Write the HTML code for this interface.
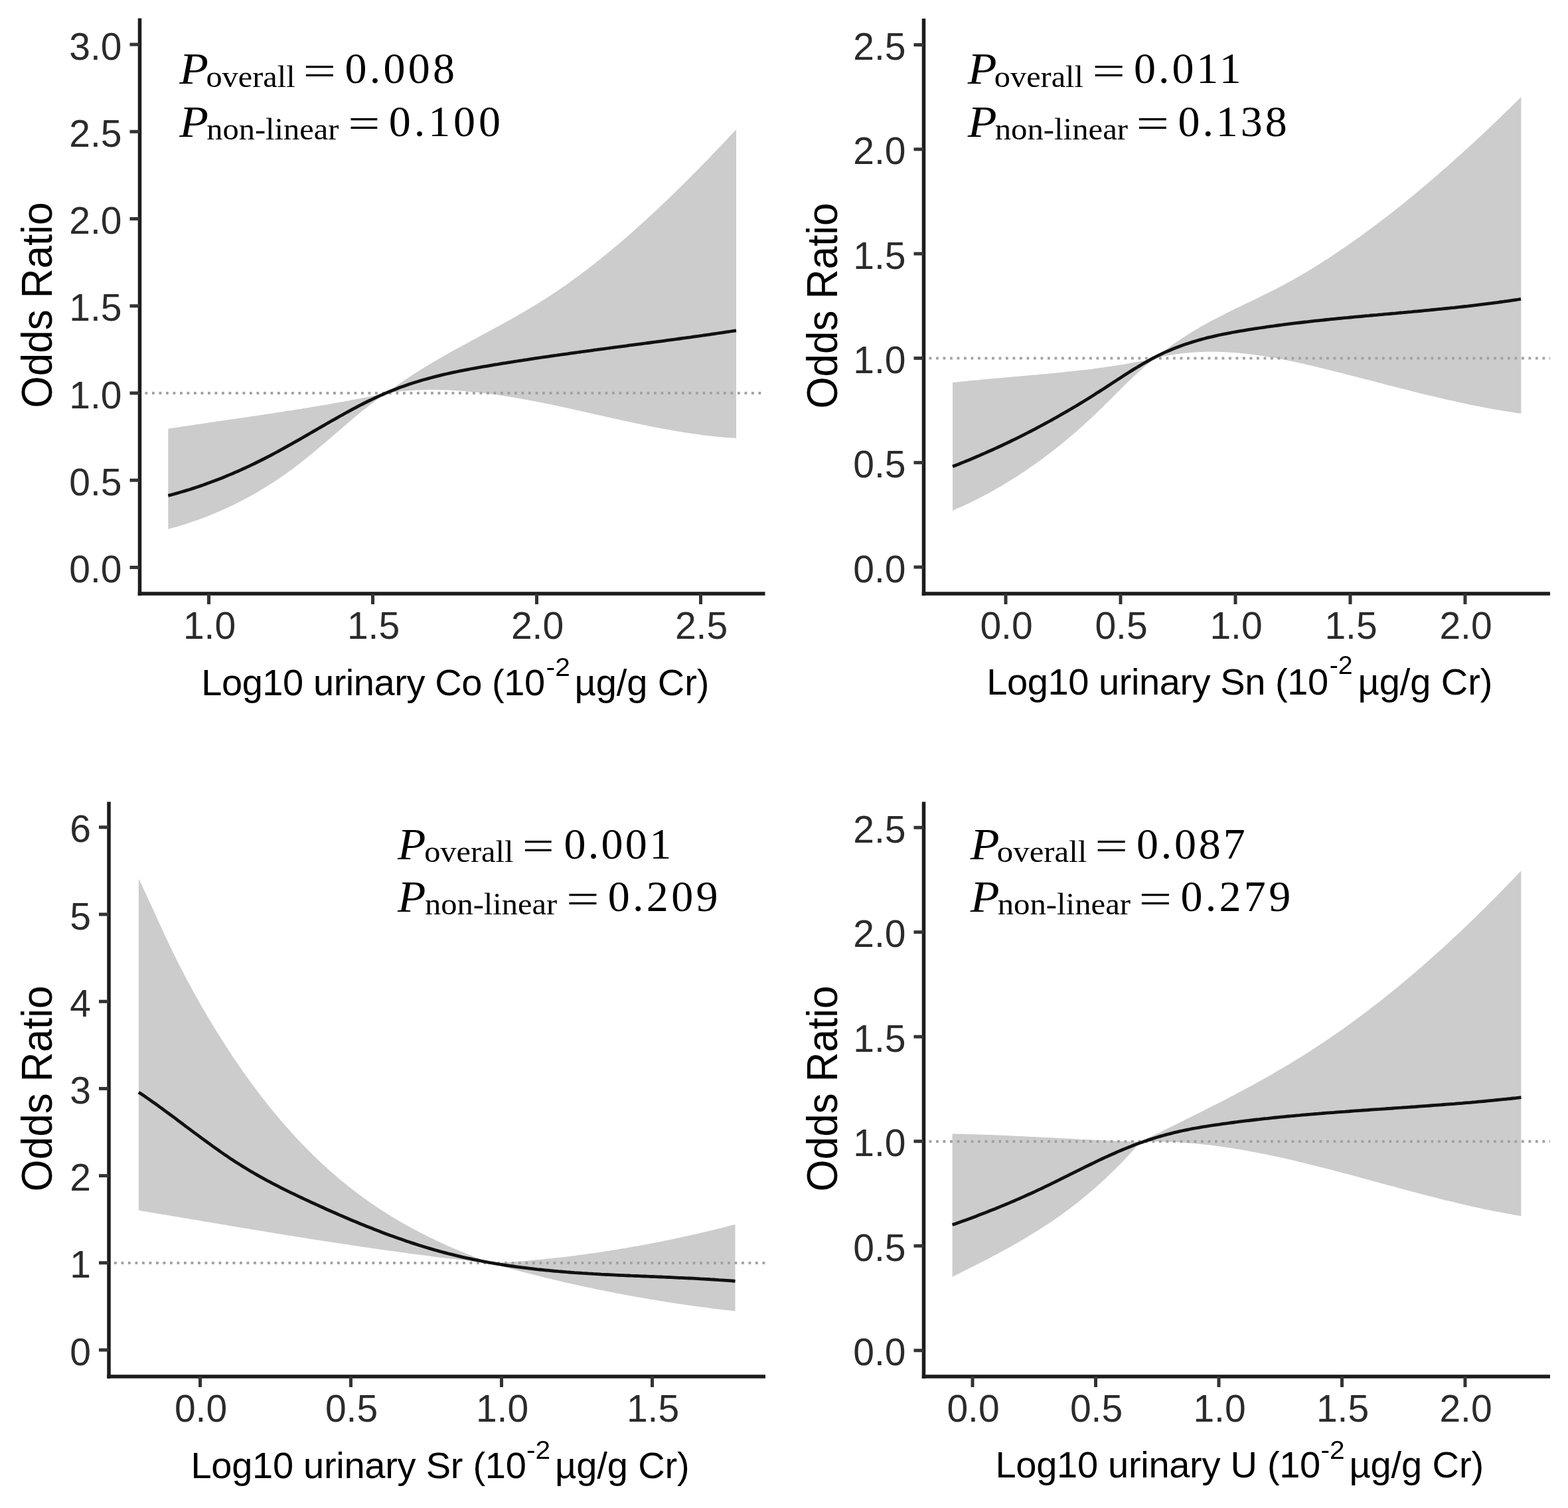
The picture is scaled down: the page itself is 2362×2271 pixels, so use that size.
<!DOCTYPE html>
<html><head><meta charset="utf-8"><title>Odds ratio spline plots</title>
<style>
html,body{margin:0;padding:0;background:#fff;}
svg{display:block;}
</style></head>
<body>
<svg xmlns="http://www.w3.org/2000/svg" width="2362" height="2271" viewBox="0 0 2362 2271">
<rect width="2362" height="2271" fill="#fff"/>
<path d="M253.3,645.7 L257.4,645.1 L261.4,644.5 L265.5,643.9 L269.5,643.2 L273.6,642.6 L277.6,642.0 L281.7,641.4 L285.8,640.8 L289.8,640.2 L293.9,639.6 L297.9,639.0 L302.0,638.4 L306.1,637.8 L310.1,637.2 L314.2,636.6 L318.2,636.0 L322.3,635.4 L326.3,634.8 L330.4,634.2 L334.5,633.6 L338.5,633.0 L342.6,632.4 L346.6,631.8 L350.7,631.3 L354.8,630.7 L358.8,630.1 L362.9,629.5 L366.9,628.9 L371.0,628.3 L375.0,627.7 L379.1,627.1 L383.2,626.5 L387.2,625.9 L391.3,625.3 L395.3,624.7 L399.4,624.1 L403.4,623.5 L407.5,622.9 L411.6,622.2 L415.6,621.6 L419.7,621.0 L423.7,620.4 L427.8,619.8 L431.9,619.1 L435.9,618.5 L440.0,617.9 L444.0,617.2 L448.1,616.6 L452.1,615.9 L456.2,615.3 L460.3,614.6 L464.3,614.0 L468.4,613.3 L472.4,612.6 L476.5,611.9 L480.5,611.3 L484.6,610.6 L488.7,609.9 L492.7,609.2 L496.8,608.5 L500.8,607.8 L504.9,607.1 L509.0,606.3 L513.0,605.6 L517.1,604.9 L521.1,604.1 L525.2,603.4 L529.2,602.6 L533.3,601.8 L537.4,601.1 L541.4,600.3 L545.5,599.5 L549.5,598.7 L553.6,597.9 L557.7,597.1 L561.7,596.3 L565.8,595.4 L569.8,594.6 L573.9,593.7 L577.9,592.9 L582.0,592.0 L586.1,589.0 L590.1,586.0 L594.2,583.1 L598.2,580.3 L602.3,577.4 L606.3,574.7 L610.4,571.9 L614.4,569.2 L618.5,566.6 L622.5,563.9 L626.6,561.3 L630.6,558.8 L634.7,556.2 L638.8,553.7 L642.8,551.3 L646.9,548.8 L650.9,546.4 L655.0,544.0 L659.0,541.7 L663.1,539.3 L667.1,537.0 L671.2,534.7 L675.2,532.4 L679.3,530.1 L683.3,527.8 L687.4,525.6 L691.5,523.4 L695.5,521.1 L699.6,518.9 L703.6,516.7 L707.7,514.5 L711.7,512.3 L715.8,510.2 L719.8,508.0 L723.9,505.8 L727.9,503.6 L732.0,501.4 L736.0,499.2 L740.1,497.0 L744.2,494.8 L748.2,492.6 L752.3,490.4 L756.3,488.2 L760.4,486.0 L764.4,483.7 L768.5,481.5 L772.5,479.2 L776.6,476.9 L780.6,474.6 L784.7,472.2 L788.7,469.9 L792.8,467.5 L796.9,465.1 L800.9,462.7 L805.0,460.2 L809.0,457.8 L813.1,455.3 L817.1,452.7 L821.2,450.2 L825.2,447.5 L829.3,444.9 L833.3,442.2 L837.4,439.5 L841.4,436.8 L845.5,434.0 L849.6,431.2 L853.6,428.4 L857.7,425.5 L861.7,422.6 L865.8,419.6 L869.8,416.7 L873.9,413.7 L877.9,410.6 L882.0,407.6 L886.0,404.5 L890.1,401.3 L894.1,398.2 L898.2,395.0 L902.3,391.8 L906.3,388.5 L910.4,385.2 L914.4,381.9 L918.5,378.6 L922.5,375.2 L926.6,371.8 L930.6,368.4 L934.7,364.9 L938.7,361.5 L942.8,358.0 L946.8,354.4 L950.9,350.9 L955.0,347.3 L959.0,343.7 L963.1,340.1 L967.1,336.4 L971.2,332.7 L975.2,329.0 L979.3,325.3 L983.3,321.5 L987.4,317.8 L991.4,314.0 L995.5,310.1 L999.5,306.3 L1003.6,302.4 L1007.7,298.5 L1011.7,294.6 L1015.8,290.7 L1019.8,286.7 L1023.9,282.7 L1027.9,278.7 L1032.0,274.7 L1036.0,270.7 L1040.1,266.6 L1044.1,262.6 L1048.2,258.5 L1052.2,254.4 L1056.3,250.2 L1060.4,246.1 L1064.4,241.9 L1068.5,237.7 L1072.5,233.5 L1076.6,229.3 L1080.6,225.1 L1084.7,220.8 L1088.7,216.5 L1092.8,212.3 L1096.8,208.0 L1100.9,203.6 L1104.9,199.3 L1109.0,195.0 L1109.0,659.9 L1104.9,659.6 L1100.9,659.4 L1096.8,659.1 L1092.8,658.8 L1088.7,658.4 L1084.7,658.0 L1080.6,657.7 L1076.6,657.2 L1072.5,656.8 L1068.5,656.4 L1064.4,655.9 L1060.4,655.4 L1056.3,654.9 L1052.2,654.3 L1048.2,653.8 L1044.1,653.2 L1040.1,652.6 L1036.0,652.0 L1032.0,651.4 L1027.9,650.7 L1023.9,650.1 L1019.8,649.4 L1015.8,648.7 L1011.7,648.0 L1007.7,647.3 L1003.6,646.5 L999.5,645.8 L995.5,645.0 L991.4,644.3 L987.4,643.5 L983.3,642.7 L979.3,641.9 L975.2,641.1 L971.2,640.2 L967.1,639.4 L963.1,638.6 L959.0,637.7 L955.0,636.8 L950.9,636.0 L946.8,635.1 L942.8,634.2 L938.7,633.3 L934.7,632.4 L930.6,631.6 L926.6,630.7 L922.5,629.8 L918.5,628.8 L914.4,627.9 L910.4,627.0 L906.3,626.1 L902.3,625.2 L898.2,624.3 L894.1,623.4 L890.1,622.5 L886.0,621.5 L882.0,620.6 L877.9,619.7 L873.9,618.8 L869.8,617.9 L865.8,617.0 L861.7,616.1 L857.7,615.2 L853.6,614.3 L849.6,613.5 L845.5,612.6 L841.4,611.7 L837.4,610.8 L833.3,610.0 L829.3,609.1 L825.2,608.3 L821.2,607.5 L817.1,606.6 L813.1,605.8 L809.0,605.0 L805.0,604.2 L800.9,603.5 L796.9,602.7 L792.8,601.9 L788.7,601.2 L784.7,600.5 L780.6,599.7 L776.6,599.0 L772.5,598.3 L768.5,597.7 L764.4,597.0 L760.4,596.4 L756.3,595.8 L752.3,595.2 L748.2,594.6 L744.2,594.0 L740.1,593.4 L736.0,592.9 L732.0,592.4 L727.9,591.9 L723.9,591.4 L719.8,591.0 L715.8,590.6 L711.7,590.2 L707.7,589.8 L703.6,589.4 L699.6,589.1 L695.5,588.8 L691.5,588.5 L687.4,588.2 L683.3,588.0 L679.3,587.8 L675.2,587.6 L671.2,587.5 L667.1,587.3 L663.1,587.2 L659.0,587.2 L655.0,587.1 L650.9,587.1 L646.9,587.1 L642.8,587.2 L638.8,587.3 L634.7,587.4 L630.6,587.5 L626.6,587.7 L622.5,587.9 L618.5,588.2 L614.4,588.4 L610.4,588.8 L606.3,589.1 L602.3,589.5 L598.2,589.9 L594.2,590.4 L590.1,590.9 L586.1,591.4 L582.0,592.0 L577.9,594.7 L573.9,597.5 L569.8,600.4 L565.8,603.4 L561.7,606.4 L557.7,609.5 L553.6,612.7 L549.5,615.9 L545.5,619.1 L541.4,622.4 L537.4,625.8 L533.3,629.1 L529.2,632.5 L525.2,636.0 L521.1,639.4 L517.1,642.9 L513.0,646.4 L509.0,649.9 L504.9,653.4 L500.8,656.9 L496.8,660.4 L492.7,663.9 L488.7,667.4 L484.6,670.8 L480.5,674.3 L476.5,677.7 L472.4,681.1 L468.4,684.5 L464.3,687.8 L460.3,691.1 L456.2,694.3 L452.1,697.5 L448.1,700.6 L444.0,703.7 L440.0,706.7 L435.9,709.6 L431.9,712.6 L427.8,715.4 L423.7,718.2 L419.7,721.0 L415.6,723.7 L411.6,726.4 L407.5,729.0 L403.4,731.6 L399.4,734.1 L395.3,736.6 L391.3,739.0 L387.2,741.4 L383.2,743.7 L379.1,746.0 L375.0,748.3 L371.0,750.5 L366.9,752.6 L362.9,754.7 L358.8,756.8 L354.8,758.8 L350.7,760.8 L346.6,762.7 L342.6,764.6 L338.5,766.5 L334.5,768.3 L330.4,770.1 L326.3,771.8 L322.3,773.5 L318.2,775.2 L314.2,776.8 L310.1,778.4 L306.1,779.9 L302.0,781.4 L297.9,782.9 L293.9,784.3 L289.8,785.7 L285.8,787.1 L281.7,788.4 L277.6,789.7 L273.6,791.0 L269.5,792.2 L265.5,793.4 L261.4,794.6 L257.4,795.7 L253.3,796.8 Z" fill="#cccccc"/>
<line x1="218.5" y1="592" x2="1152.5" y2="592" stroke="#a2a2a2" stroke-width="3.8" stroke-dasharray="3.8 6.7"/>
<path d="M253.3,746.3 L257.3,745.3 L261.4,744.2 L265.4,743.1 L269.4,742.0 L273.5,740.8 L277.5,739.6 L281.6,738.4 L285.6,737.2 L289.6,735.9 L293.7,734.6 L297.7,733.2 L301.7,731.9 L305.8,730.5 L309.8,729.0 L313.8,727.6 L317.9,726.1 L321.9,724.6 L326.0,723.0 L330.0,721.5 L334.0,719.9 L338.1,718.2 L342.1,716.6 L346.1,714.9 L350.2,713.2 L354.2,711.4 L358.2,709.7 L362.3,707.9 L366.3,706.0 L370.4,704.2 L374.4,702.3 L378.4,700.4 L382.5,698.5 L386.5,696.5 L390.5,694.5 L394.6,692.5 L398.6,690.5 L402.6,688.4 L406.7,686.3 L410.7,684.2 L414.8,682.0 L418.8,679.9 L422.8,677.7 L426.9,675.4 L430.9,673.2 L434.9,670.9 L439.0,668.7 L443.0,666.4 L447.0,664.1 L451.1,661.8 L455.1,659.5 L459.2,657.1 L463.2,654.8 L467.2,652.5 L471.3,650.1 L475.3,647.8 L479.3,645.5 L483.4,643.1 L487.4,640.8 L491.4,638.5 L495.5,636.2 L499.5,633.8 L503.6,631.6 L507.6,629.3 L511.6,627.0 L515.7,624.8 L519.7,622.5 L523.7,620.3 L527.8,618.1 L531.8,615.9 L535.8,613.8 L539.9,611.7 L543.9,609.6 L548.0,607.5 L552.0,605.5 L556.0,603.5 L560.1,601.6 L564.1,599.7 L568.1,597.8 L572.2,595.9 L576.2,594.2 L580.2,592.4 L584.3,590.7 L588.3,589.0 L592.4,587.4 L596.4,585.9 L600.4,584.3 L604.5,582.8 L608.5,581.4 L612.5,580.0 L616.6,578.6 L620.6,577.3 L624.6,576.0 L628.7,574.8 L632.7,573.5 L636.8,572.3 L640.8,571.2 L644.8,570.1 L648.9,569.0 L652.9,567.9 L656.9,566.9 L661.0,565.9 L665.0,564.9 L669.0,563.9 L673.1,563.0 L677.1,562.1 L681.2,561.2 L685.2,560.3 L689.2,559.5 L693.3,558.7 L697.3,557.9 L701.3,557.1 L705.4,556.3 L709.4,555.5 L713.4,554.8 L717.5,554.1 L721.5,553.4 L725.5,552.6 L729.6,551.9 L733.6,551.3 L737.7,550.6 L741.7,549.9 L745.7,549.2 L749.8,548.6 L753.8,547.9 L757.8,547.2 L761.9,546.6 L765.9,545.9 L769.9,545.3 L774.0,544.7 L778.0,544.0 L782.1,543.4 L786.1,542.8 L790.1,542.2 L794.2,541.6 L798.2,540.9 L802.2,540.3 L806.3,539.7 L810.3,539.1 L814.3,538.5 L818.4,537.9 L822.4,537.4 L826.5,536.8 L830.5,536.2 L834.5,535.6 L838.6,535.0 L842.6,534.5 L846.6,533.9 L850.7,533.3 L854.7,532.8 L858.7,532.2 L862.8,531.6 L866.8,531.1 L870.9,530.5 L874.9,530.0 L878.9,529.4 L883.0,528.9 L887.0,528.3 L891.0,527.8 L895.1,527.2 L899.1,526.7 L903.1,526.1 L907.2,525.6 L911.2,525.1 L915.3,524.5 L919.3,524.0 L923.3,523.4 L927.4,522.9 L931.4,522.4 L935.4,521.8 L939.5,521.3 L943.5,520.8 L947.5,520.2 L951.6,519.7 L955.6,519.2 L959.7,518.6 L963.7,518.1 L967.7,517.6 L971.8,517.0 L975.8,516.5 L979.8,516.0 L983.9,515.4 L987.9,514.9 L991.9,514.3 L996.0,513.8 L1000.0,513.3 L1004.1,512.7 L1008.1,512.2 L1012.1,511.6 L1016.2,511.1 L1020.2,510.5 L1024.2,510.0 L1028.3,509.4 L1032.3,508.9 L1036.3,508.3 L1040.4,507.8 L1044.4,507.2 L1048.5,506.6 L1052.5,506.1 L1056.5,505.5 L1060.6,504.9 L1064.6,504.3 L1068.6,503.8 L1072.7,503.2 L1076.7,502.6 L1080.7,502.0 L1084.8,501.4 L1088.8,500.8 L1092.9,500.2 L1096.9,499.6 L1100.9,499.0 L1105.0,498.4 L1109.0,497.8" fill="none" stroke="#111" stroke-width="4.8" stroke-linejoin="round"/>
<line x1="210.5" y1="27.5" x2="210.5" y2="897" stroke="#1c1c1c" stroke-width="5.5"/>
<line x1="207.75" y1="894" x2="1152.5" y2="894" stroke="#1c1c1c" stroke-width="5.5"/>
<line x1="195.5" y1="854.50" x2="210.5" y2="854.50" stroke="#333333" stroke-width="5"/>
<text x="183.5" y="877.00" text-anchor="end" font-family="'Liberation Sans', Arial, Helvetica, sans-serif" font-size="57" fill="#2b2b2b">0.0</text>
<line x1="195.5" y1="723.25" x2="210.5" y2="723.25" stroke="#333333" stroke-width="5"/>
<text x="183.5" y="745.75" text-anchor="end" font-family="'Liberation Sans', Arial, Helvetica, sans-serif" font-size="57" fill="#2b2b2b">0.5</text>
<line x1="195.5" y1="592.00" x2="210.5" y2="592.00" stroke="#333333" stroke-width="5"/>
<text x="183.5" y="614.50" text-anchor="end" font-family="'Liberation Sans', Arial, Helvetica, sans-serif" font-size="57" fill="#2b2b2b">1.0</text>
<line x1="195.5" y1="460.75" x2="210.5" y2="460.75" stroke="#333333" stroke-width="5"/>
<text x="183.5" y="483.25" text-anchor="end" font-family="'Liberation Sans', Arial, Helvetica, sans-serif" font-size="57" fill="#2b2b2b">1.5</text>
<line x1="195.5" y1="329.50" x2="210.5" y2="329.50" stroke="#333333" stroke-width="5"/>
<text x="183.5" y="352.00" text-anchor="end" font-family="'Liberation Sans', Arial, Helvetica, sans-serif" font-size="57" fill="#2b2b2b">2.0</text>
<line x1="195.5" y1="198.25" x2="210.5" y2="198.25" stroke="#333333" stroke-width="5"/>
<text x="183.5" y="220.75" text-anchor="end" font-family="'Liberation Sans', Arial, Helvetica, sans-serif" font-size="57" fill="#2b2b2b">2.5</text>
<line x1="195.5" y1="67.00" x2="210.5" y2="67.00" stroke="#333333" stroke-width="5"/>
<text x="183.5" y="89.50" text-anchor="end" font-family="'Liberation Sans', Arial, Helvetica, sans-serif" font-size="57" fill="#2b2b2b">3.0</text>
<line x1="314.50" y1="894" x2="314.50" y2="910" stroke="#333333" stroke-width="5"/>
<text x="315.50" y="961.5" text-anchor="middle" font-family="'Liberation Sans', Arial, Helvetica, sans-serif" font-size="57" fill="#2b2b2b">1.0</text>
<line x1="561.50" y1="894" x2="561.50" y2="910" stroke="#333333" stroke-width="5"/>
<text x="562.50" y="961.5" text-anchor="middle" font-family="'Liberation Sans', Arial, Helvetica, sans-serif" font-size="57" fill="#2b2b2b">1.5</text>
<line x1="808.50" y1="894" x2="808.50" y2="910" stroke="#333333" stroke-width="5"/>
<text x="809.50" y="961.5" text-anchor="middle" font-family="'Liberation Sans', Arial, Helvetica, sans-serif" font-size="57" fill="#2b2b2b">2.0</text>
<line x1="1055.50" y1="894" x2="1055.50" y2="910" stroke="#333333" stroke-width="5"/>
<text x="1056.50" y="961.5" text-anchor="middle" font-family="'Liberation Sans', Arial, Helvetica, sans-serif" font-size="57" fill="#2b2b2b">2.5</text>
<text transform="translate(77.5,459.5) rotate(-90) scale(1,1.05)" text-anchor="middle" font-family="'Liberation Sans', Arial, Helvetica, sans-serif" font-size="62" fill="#000">Odds Ratio</text>
<text transform="translate(303.21,1046.50)" font-family="'Liberation Sans', Arial, Helvetica, sans-serif" font-size="56" letter-spacing="-0.43" fill="#000">Log10 urinary Co (10</text>
<text transform="translate(822.61,1017.90) scale(1.0711,1.0255)" font-family="'Liberation Sans', Arial, Helvetica, sans-serif" font-size="38" fill="#000">-2</text>
<text transform="translate(865.49,1046.50)" font-family="'Liberation Sans', Arial, Helvetica, sans-serif" font-size="56" letter-spacing="-0.07" fill="#000">µg/g Cr)</text>
<text transform="translate(270.33,126.30) scale(1.0852,1.0124)" font-family="'Liberation Serif', 'Times New Roman', Times, serif" font-style="italic" font-size="66" fill="#000">P</text>
<text transform="translate(310.46,131.10) scale(1.0286,1.0000)" font-family="'Liberation Serif', 'Times New Roman', Times, serif" font-size="47" fill="#000">overall</text>
<text transform="translate(456.60,127.63) scale(1.3331,0.9636)" font-family="'Liberation Serif', 'Times New Roman', Times, serif" font-size="66" fill="#000">=</text>
<text transform="translate(519.49,125.38)" font-family="'Liberation Serif', 'Times New Roman', Times, serif" font-size="66" letter-spacing="4.25" fill="#000">0.008</text>
<text transform="translate(270.33,205.90) scale(1.0852,1.0147)" font-family="'Liberation Serif', 'Times New Roman', Times, serif" font-style="italic" font-size="66" fill="#000">P</text>
<text transform="translate(311.23,209.90) scale(1.0315,1.0000)" font-family="'Liberation Serif', 'Times New Roman', Times, serif" font-size="47" fill="#000">non-linear</text>
<text transform="translate(524.33,207.23) scale(1.2941,0.9636)" font-family="'Liberation Serif', 'Times New Roman', Times, serif" font-size="66" fill="#000">=</text>
<text transform="translate(585.79,204.98)" font-family="'Liberation Serif', 'Times New Roman', Times, serif" font-size="66" letter-spacing="4.93" fill="#000">0.100</text>
<path d="M1435.0,576.1 L1439.1,575.7 L1443.1,575.2 L1447.2,574.8 L1451.3,574.4 L1455.3,574.0 L1459.4,573.5 L1463.5,573.1 L1467.5,572.7 L1471.6,572.4 L1475.7,572.0 L1479.7,571.6 L1483.8,571.2 L1487.9,570.8 L1491.9,570.5 L1496.0,570.1 L1500.1,569.7 L1504.1,569.4 L1508.2,569.0 L1512.3,568.7 L1516.3,568.3 L1520.4,568.0 L1524.5,567.6 L1528.5,567.3 L1532.6,566.9 L1536.7,566.5 L1540.7,566.2 L1544.8,565.8 L1548.9,565.5 L1552.9,565.1 L1557.0,564.8 L1561.1,564.4 L1565.1,564.0 L1569.2,563.6 L1573.3,563.3 L1577.3,562.9 L1581.4,562.5 L1585.5,562.1 L1589.5,561.7 L1593.6,561.3 L1597.7,560.9 L1601.7,560.5 L1605.8,560.1 L1609.9,559.6 L1613.9,559.2 L1618.0,558.8 L1622.1,558.3 L1626.1,557.8 L1630.2,557.4 L1634.3,556.9 L1638.3,556.4 L1642.4,555.9 L1646.5,555.4 L1650.5,554.8 L1654.6,554.3 L1658.7,553.7 L1662.7,553.2 L1666.8,552.6 L1670.9,552.0 L1674.9,551.4 L1679.0,550.8 L1683.1,550.2 L1687.1,549.5 L1691.2,548.9 L1695.3,548.2 L1699.3,547.5 L1703.4,546.8 L1707.5,546.1 L1711.5,545.3 L1715.6,544.6 L1719.7,543.8 L1723.7,543.0 L1727.8,542.2 L1731.9,541.3 L1735.9,540.5 L1740.0,539.6 L1744.1,536.2 L1748.1,533.0 L1752.2,529.8 L1756.2,526.7 L1760.3,523.7 L1764.3,520.7 L1768.4,517.8 L1772.4,515.0 L1776.5,512.2 L1780.5,509.5 L1784.6,506.9 L1788.7,504.3 L1792.7,501.7 L1796.8,499.3 L1800.8,496.8 L1804.9,494.4 L1808.9,492.1 L1813.0,489.8 L1817.0,487.5 L1821.1,485.3 L1825.1,483.1 L1829.2,481.0 L1833.3,478.9 L1837.3,476.8 L1841.4,474.7 L1845.4,472.6 L1849.5,470.6 L1853.5,468.6 L1857.6,466.6 L1861.6,464.6 L1865.7,462.7 L1869.7,460.7 L1873.8,458.7 L1877.8,456.8 L1881.9,454.9 L1886.0,452.9 L1890.0,450.9 L1894.1,449.0 L1898.1,447.0 L1902.2,445.0 L1906.2,443.0 L1910.3,441.0 L1914.3,439.0 L1918.4,437.0 L1922.4,434.9 L1926.5,432.8 L1930.6,430.7 L1934.6,428.5 L1938.7,426.3 L1942.7,424.1 L1946.8,421.9 L1950.8,419.6 L1954.9,417.3 L1958.9,415.0 L1963.0,412.6 L1967.0,410.2 L1971.1,407.8 L1975.2,405.3 L1979.2,402.8 L1983.3,400.3 L1987.3,397.8 L1991.4,395.2 L1995.4,392.6 L1999.5,390.0 L2003.5,387.4 L2007.6,384.7 L2011.6,382.0 L2015.7,379.3 L2019.8,376.5 L2023.8,373.8 L2027.9,371.0 L2031.9,368.2 L2036.0,365.3 L2040.0,362.5 L2044.1,359.6 L2048.1,356.7 L2052.2,353.7 L2056.2,350.8 L2060.3,347.8 L2064.4,344.8 L2068.4,341.8 L2072.5,338.7 L2076.5,335.7 L2080.6,332.6 L2084.6,329.5 L2088.7,326.4 L2092.7,323.2 L2096.8,320.0 L2100.8,316.9 L2104.9,313.7 L2109.0,310.4 L2113.0,307.2 L2117.1,303.9 L2121.1,300.6 L2125.2,297.3 L2129.2,294.0 L2133.3,290.6 L2137.3,287.3 L2141.4,283.9 L2145.4,280.5 L2149.5,277.1 L2153.6,273.6 L2157.6,270.1 L2161.7,266.7 L2165.7,263.2 L2169.8,259.6 L2173.8,256.1 L2177.9,252.5 L2181.9,249.0 L2186.0,245.4 L2190.0,241.8 L2194.1,238.1 L2198.1,234.5 L2202.2,230.8 L2206.3,227.1 L2210.3,223.4 L2214.4,219.7 L2218.4,216.0 L2222.5,212.2 L2226.5,208.5 L2230.6,204.7 L2234.6,200.9 L2238.7,197.1 L2242.7,193.2 L2246.8,189.4 L2250.9,185.5 L2254.9,181.6 L2259.0,177.7 L2263.0,173.8 L2267.1,169.8 L2271.1,165.9 L2275.2,161.9 L2279.2,157.9 L2283.3,153.9 L2287.3,149.9 L2291.4,145.9 L2291.4,622.8 L2287.3,622.2 L2283.3,621.7 L2279.2,621.1 L2275.2,620.4 L2271.1,619.8 L2267.1,619.2 L2263.0,618.5 L2259.0,617.8 L2254.9,617.1 L2250.9,616.4 L2246.8,615.7 L2242.7,614.9 L2238.7,614.2 L2234.6,613.4 L2230.6,612.6 L2226.5,611.8 L2222.5,611.0 L2218.4,610.2 L2214.4,609.4 L2210.3,608.5 L2206.3,607.7 L2202.2,606.8 L2198.1,605.9 L2194.1,605.0 L2190.0,604.1 L2186.0,603.2 L2181.9,602.3 L2177.9,601.4 L2173.8,600.5 L2169.8,599.5 L2165.7,598.6 L2161.7,597.6 L2157.6,596.6 L2153.6,595.7 L2149.5,594.7 L2145.4,593.7 L2141.4,592.7 L2137.3,591.7 L2133.3,590.7 L2129.2,589.7 L2125.2,588.7 L2121.1,587.6 L2117.1,586.6 L2113.0,585.6 L2109.0,584.6 L2104.9,583.5 L2100.8,582.5 L2096.8,581.4 L2092.7,580.4 L2088.7,579.4 L2084.6,578.3 L2080.6,577.3 L2076.5,576.2 L2072.5,575.2 L2068.4,574.1 L2064.4,573.1 L2060.3,572.0 L2056.2,571.0 L2052.2,569.9 L2048.1,568.9 L2044.1,567.8 L2040.0,566.8 L2036.0,565.7 L2031.9,564.7 L2027.9,563.7 L2023.8,562.6 L2019.8,561.6 L2015.7,560.6 L2011.6,559.5 L2007.6,558.5 L2003.5,557.5 L1999.5,556.5 L1995.4,555.5 L1991.4,554.5 L1987.3,553.5 L1983.3,552.6 L1979.2,551.6 L1975.2,550.6 L1971.1,549.7 L1967.0,548.8 L1963.0,547.8 L1958.9,546.9 L1954.9,546.0 L1950.8,545.2 L1946.8,544.3 L1942.7,543.5 L1938.7,542.6 L1934.6,541.8 L1930.6,541.0 L1926.5,540.3 L1922.4,539.5 L1918.4,538.8 L1914.3,538.1 L1910.3,537.4 L1906.2,536.7 L1902.2,536.1 L1898.1,535.5 L1894.1,534.9 L1890.0,534.3 L1886.0,533.8 L1881.9,533.3 L1877.8,532.8 L1873.8,532.4 L1869.7,532.0 L1865.7,531.6 L1861.6,531.3 L1857.6,530.9 L1853.5,530.7 L1849.5,530.4 L1845.4,530.2 L1841.4,530.0 L1837.3,529.9 L1833.3,529.8 L1829.2,529.7 L1825.1,529.7 L1821.1,529.7 L1817.0,529.8 L1813.0,529.9 L1808.9,530.0 L1804.9,530.2 L1800.8,530.4 L1796.8,530.7 L1792.7,531.0 L1788.7,531.4 L1784.6,531.8 L1780.5,532.2 L1776.5,532.7 L1772.4,533.3 L1768.4,533.9 L1764.3,534.5 L1760.3,535.3 L1756.2,536.0 L1752.2,536.8 L1748.1,537.7 L1744.1,538.6 L1740.0,539.6 L1735.9,542.7 L1731.9,545.9 L1727.8,549.2 L1723.7,552.6 L1719.7,556.2 L1715.6,559.8 L1711.5,563.5 L1707.5,567.3 L1703.4,571.2 L1699.3,575.1 L1695.3,579.0 L1691.2,583.0 L1687.1,587.0 L1683.1,591.1 L1679.0,595.1 L1674.9,599.2 L1670.9,603.3 L1666.8,607.3 L1662.7,611.3 L1658.7,615.3 L1654.6,619.3 L1650.5,623.2 L1646.5,627.0 L1642.4,630.8 L1638.3,634.6 L1634.3,638.3 L1630.2,642.0 L1626.1,645.6 L1622.1,649.2 L1618.0,652.7 L1613.9,656.2 L1609.9,659.6 L1605.8,663.0 L1601.7,666.4 L1597.7,669.7 L1593.6,673.0 L1589.5,676.2 L1585.5,679.4 L1581.4,682.5 L1577.3,685.6 L1573.3,688.7 L1569.2,691.7 L1565.1,694.7 L1561.1,697.6 L1557.0,700.5 L1552.9,703.3 L1548.9,706.1 L1544.8,708.9 L1540.7,711.6 L1536.7,714.3 L1532.6,716.9 L1528.5,719.5 L1524.5,722.1 L1520.4,724.6 L1516.3,727.1 L1512.3,729.5 L1508.2,731.9 L1504.1,734.3 L1500.1,736.6 L1496.0,738.9 L1491.9,741.2 L1487.9,743.4 L1483.8,745.6 L1479.7,747.7 L1475.7,749.8 L1471.6,751.9 L1467.5,753.9 L1463.5,755.9 L1459.4,757.9 L1455.3,759.8 L1451.3,761.7 L1447.2,763.5 L1443.1,765.3 L1439.1,767.1 L1435.0,768.9 Z" fill="#cccccc"/>
<line x1="1399.5" y1="539.5" x2="2335" y2="539.5" stroke="#a2a2a2" stroke-width="3.8" stroke-dasharray="3.8 6.7"/>
<path d="M1435.0,702.5 L1439.0,700.9 L1443.0,699.4 L1447.1,697.8 L1451.1,696.1 L1455.1,694.5 L1459.1,692.9 L1463.1,691.2 L1467.2,689.5 L1471.2,687.8 L1475.2,686.1 L1479.2,684.3 L1483.2,682.6 L1487.2,680.8 L1491.3,679.0 L1495.3,677.2 L1499.3,675.4 L1503.3,673.5 L1507.3,671.7 L1511.4,669.8 L1515.4,667.9 L1519.4,666.0 L1523.4,664.0 L1527.4,662.1 L1531.5,660.1 L1535.5,658.1 L1539.5,656.1 L1543.5,654.1 L1547.5,652.0 L1551.5,650.0 L1555.6,647.9 L1559.6,645.8 L1563.6,643.7 L1567.6,641.5 L1571.6,639.4 L1575.7,637.2 L1579.7,635.0 L1583.7,632.8 L1587.7,630.5 L1591.7,628.3 L1595.8,626.0 L1599.8,623.7 L1603.8,621.4 L1607.8,619.1 L1611.8,616.7 L1615.8,614.4 L1619.9,612.0 L1623.9,609.6 L1627.9,607.1 L1631.9,604.7 L1635.9,602.2 L1640.0,599.7 L1644.0,597.2 L1648.0,594.7 L1652.0,592.1 L1656.0,589.6 L1660.1,587.0 L1664.1,584.4 L1668.1,581.8 L1672.1,579.2 L1676.1,576.5 L1680.1,573.9 L1684.2,571.3 L1688.2,568.7 L1692.2,566.1 L1696.2,563.5 L1700.2,561.0 L1704.3,558.4 L1708.3,555.9 L1712.3,553.5 L1716.3,551.1 L1720.3,548.7 L1724.4,546.4 L1728.4,544.1 L1732.4,541.9 L1736.4,539.7 L1740.4,537.6 L1744.4,535.6 L1748.5,533.6 L1752.5,531.7 L1756.5,529.9 L1760.5,528.2 L1764.5,526.5 L1768.6,524.8 L1772.6,523.2 L1776.6,521.7 L1780.6,520.3 L1784.6,518.8 L1788.7,517.5 L1792.7,516.2 L1796.7,514.9 L1800.7,513.7 L1804.7,512.5 L1808.7,511.4 L1812.8,510.3 L1816.8,509.2 L1820.8,508.2 L1824.8,507.3 L1828.8,506.3 L1832.9,505.4 L1836.9,504.5 L1840.9,503.7 L1844.9,502.9 L1848.9,502.1 L1853.0,501.3 L1857.0,500.5 L1861.0,499.8 L1865.0,499.1 L1869.0,498.4 L1873.0,497.8 L1877.1,497.1 L1881.1,496.4 L1885.1,495.8 L1889.1,495.2 L1893.1,494.6 L1897.2,494.0 L1901.2,493.4 L1905.2,492.8 L1909.2,492.2 L1913.2,491.6 L1917.3,491.1 L1921.3,490.5 L1925.3,490.0 L1929.3,489.5 L1933.3,488.9 L1937.3,488.4 L1941.4,487.9 L1945.4,487.4 L1949.4,486.9 L1953.4,486.4 L1957.4,486.0 L1961.5,485.5 L1965.5,485.0 L1969.5,484.6 L1973.5,484.1 L1977.5,483.7 L1981.6,483.2 L1985.6,482.8 L1989.6,482.4 L1993.6,482.0 L1997.6,481.5 L2001.6,481.1 L2005.7,480.7 L2009.7,480.3 L2013.7,479.9 L2017.7,479.5 L2021.7,479.1 L2025.8,478.7 L2029.8,478.4 L2033.8,478.0 L2037.8,477.6 L2041.8,477.2 L2045.9,476.8 L2049.9,476.5 L2053.9,476.1 L2057.9,475.7 L2061.9,475.4 L2065.9,475.0 L2070.0,474.6 L2074.0,474.3 L2078.0,473.9 L2082.0,473.6 L2086.0,473.2 L2090.1,472.8 L2094.1,472.5 L2098.1,472.1 L2102.1,471.8 L2106.1,471.4 L2110.2,471.0 L2114.2,470.7 L2118.2,470.3 L2122.2,469.9 L2126.2,469.6 L2130.2,469.2 L2134.3,468.8 L2138.3,468.5 L2142.3,468.1 L2146.3,467.7 L2150.3,467.3 L2154.4,466.9 L2158.4,466.5 L2162.4,466.1 L2166.4,465.7 L2170.4,465.3 L2174.5,464.9 L2178.5,464.5 L2182.5,464.1 L2186.5,463.7 L2190.5,463.3 L2194.5,462.8 L2198.6,462.4 L2202.6,462.0 L2206.6,461.5 L2210.6,461.1 L2214.6,460.6 L2218.7,460.1 L2222.7,459.7 L2226.7,459.2 L2230.7,458.7 L2234.7,458.2 L2238.8,457.7 L2242.8,457.2 L2246.8,456.7 L2250.8,456.1 L2254.8,455.6 L2258.8,455.0 L2262.9,454.5 L2266.9,453.9 L2270.9,453.4 L2274.9,452.8 L2278.9,452.2 L2283.0,451.6 L2287.0,451.0 L2291.0,450.3" fill="none" stroke="#111" stroke-width="4.8" stroke-linejoin="round"/>
<line x1="1391.5" y1="28" x2="1391.5" y2="897" stroke="#1c1c1c" stroke-width="5.5"/>
<line x1="1388.75" y1="894" x2="2335" y2="894" stroke="#1c1c1c" stroke-width="5.5"/>
<line x1="1376.5" y1="854.00" x2="1391.5" y2="854.00" stroke="#333333" stroke-width="5"/>
<text x="1364.5" y="876.50" text-anchor="end" font-family="'Liberation Sans', Arial, Helvetica, sans-serif" font-size="57" fill="#2b2b2b">0.0</text>
<line x1="1376.5" y1="696.70" x2="1391.5" y2="696.70" stroke="#333333" stroke-width="5"/>
<text x="1364.5" y="719.20" text-anchor="end" font-family="'Liberation Sans', Arial, Helvetica, sans-serif" font-size="57" fill="#2b2b2b">0.5</text>
<line x1="1376.5" y1="539.40" x2="1391.5" y2="539.40" stroke="#333333" stroke-width="5"/>
<text x="1364.5" y="561.90" text-anchor="end" font-family="'Liberation Sans', Arial, Helvetica, sans-serif" font-size="57" fill="#2b2b2b">1.0</text>
<line x1="1376.5" y1="382.10" x2="1391.5" y2="382.10" stroke="#333333" stroke-width="5"/>
<text x="1364.5" y="404.60" text-anchor="end" font-family="'Liberation Sans', Arial, Helvetica, sans-serif" font-size="57" fill="#2b2b2b">1.5</text>
<line x1="1376.5" y1="224.80" x2="1391.5" y2="224.80" stroke="#333333" stroke-width="5"/>
<text x="1364.5" y="247.30" text-anchor="end" font-family="'Liberation Sans', Arial, Helvetica, sans-serif" font-size="57" fill="#2b2b2b">2.0</text>
<line x1="1376.5" y1="67.50" x2="1391.5" y2="67.50" stroke="#333333" stroke-width="5"/>
<text x="1364.5" y="90.00" text-anchor="end" font-family="'Liberation Sans', Arial, Helvetica, sans-serif" font-size="57" fill="#2b2b2b">2.5</text>
<line x1="1515.00" y1="894" x2="1515.00" y2="910" stroke="#333333" stroke-width="5"/>
<text x="1516.00" y="961.5" text-anchor="middle" font-family="'Liberation Sans', Arial, Helvetica, sans-serif" font-size="57" fill="#2b2b2b">0.0</text>
<line x1="1688.00" y1="894" x2="1688.00" y2="910" stroke="#333333" stroke-width="5"/>
<text x="1689.00" y="961.5" text-anchor="middle" font-family="'Liberation Sans', Arial, Helvetica, sans-serif" font-size="57" fill="#2b2b2b">0.5</text>
<line x1="1861.00" y1="894" x2="1861.00" y2="910" stroke="#333333" stroke-width="5"/>
<text x="1862.00" y="961.5" text-anchor="middle" font-family="'Liberation Sans', Arial, Helvetica, sans-serif" font-size="57" fill="#2b2b2b">1.0</text>
<line x1="2034.00" y1="894" x2="2034.00" y2="910" stroke="#333333" stroke-width="5"/>
<text x="2035.00" y="961.5" text-anchor="middle" font-family="'Liberation Sans', Arial, Helvetica, sans-serif" font-size="57" fill="#2b2b2b">1.5</text>
<line x1="2207.00" y1="894" x2="2207.00" y2="910" stroke="#333333" stroke-width="5"/>
<text x="2208.00" y="961.5" text-anchor="middle" font-family="'Liberation Sans', Arial, Helvetica, sans-serif" font-size="57" fill="#2b2b2b">2.0</text>
<text transform="translate(1260.5,460.6) rotate(-90) scale(1,1.05)" text-anchor="middle" font-family="'Liberation Sans', Arial, Helvetica, sans-serif" font-size="62" fill="#000">Odds Ratio</text>
<text transform="translate(1486.31,1046.00)" font-family="'Liberation Sans', Arial, Helvetica, sans-serif" font-size="56" letter-spacing="-0.43" fill="#000">Log10 urinary Sn (10</text>
<text transform="translate(2002.67,1014.70) scale(1.0348,1.0255)" font-family="'Liberation Sans', Arial, Helvetica, sans-serif" font-size="38" fill="#000">-2</text>
<text transform="translate(2045.49,1046.00)" font-family="'Liberation Sans', Arial, Helvetica, sans-serif" font-size="56" letter-spacing="-0.07" fill="#000">µg/g Cr)</text>
<text transform="translate(1457.63,126.30) scale(1.0877,1.0124)" font-family="'Liberation Serif', 'Times New Roman', Times, serif" font-style="italic" font-size="66" fill="#000">P</text>
<text transform="translate(1497.86,131.10) scale(1.0278,1.0000)" font-family="'Liberation Serif', 'Times New Roman', Times, serif" font-size="47" fill="#000">overall</text>
<text transform="translate(1645.19,127.63) scale(1.3363,0.9636)" font-family="'Liberation Serif', 'Times New Roman', Times, serif" font-size="66" fill="#000">=</text>
<text transform="translate(1708.09,125.38)" font-family="'Liberation Serif', 'Times New Roman', Times, serif" font-size="66" letter-spacing="3.92" fill="#000">0.011</text>
<text transform="translate(1457.63,205.90) scale(1.0877,1.0147)" font-family="'Liberation Serif', 'Times New Roman', Times, serif" font-style="italic" font-size="66" fill="#000">P</text>
<text transform="translate(1498.63,209.90) scale(1.0383,1.0000)" font-family="'Liberation Serif', 'Times New Roman', Times, serif" font-size="47" fill="#000">non-linear</text>
<text transform="translate(1711.60,207.23) scale(1.3331,0.9636)" font-family="'Liberation Serif', 'Times New Roman', Times, serif" font-size="66" fill="#000">=</text>
<text transform="translate(1774.49,204.98)" font-family="'Liberation Serif', 'Times New Roman', Times, serif" font-size="66" letter-spacing="3.93" fill="#000">0.138</text>
<path d="M208.9,1323.5 L213.0,1331.9 L217.0,1340.4 L221.1,1349.1 L225.1,1357.8 L229.2,1366.6 L233.2,1375.5 L237.3,1384.4 L241.3,1393.3 L245.4,1402.1 L249.4,1410.8 L253.5,1419.4 L257.6,1427.9 L261.6,1436.3 L265.7,1444.5 L269.7,1452.5 L273.8,1460.5 L277.8,1468.3 L281.9,1476.0 L285.9,1483.6 L290.0,1491.0 L294.0,1498.4 L298.1,1505.6 L302.1,1512.7 L306.2,1519.8 L310.3,1526.7 L314.3,1533.5 L318.4,1540.3 L322.4,1547.0 L326.5,1553.5 L330.5,1560.1 L334.6,1566.5 L338.6,1572.8 L342.7,1579.1 L346.7,1585.3 L350.8,1591.4 L354.9,1597.4 L358.9,1603.3 L363.0,1609.2 L367.0,1615.0 L371.1,1620.7 L375.1,1626.3 L379.2,1631.9 L383.2,1637.4 L387.3,1642.8 L391.3,1648.1 L395.4,1653.4 L399.4,1658.5 L403.5,1663.7 L407.6,1668.7 L411.6,1673.7 L415.7,1678.6 L419.7,1683.4 L423.8,1688.2 L427.8,1692.9 L431.9,1697.5 L435.9,1702.1 L440.0,1706.6 L444.0,1711.0 L448.1,1715.4 L452.2,1719.7 L456.2,1723.9 L460.3,1728.1 L464.3,1732.2 L468.4,1736.3 L472.4,1740.3 L476.5,1744.2 L480.5,1748.1 L484.6,1751.9 L488.6,1755.6 L492.7,1759.3 L496.7,1762.9 L500.8,1766.5 L504.9,1770.0 L508.9,1773.5 L513.0,1776.9 L517.0,1780.3 L521.1,1783.6 L525.1,1786.8 L529.2,1790.0 L533.2,1793.1 L537.3,1796.2 L541.3,1799.3 L545.4,1802.3 L549.5,1805.2 L553.5,1808.1 L557.6,1810.9 L561.6,1813.7 L565.7,1816.5 L569.7,1819.2 L573.8,1821.9 L577.8,1824.5 L581.9,1827.1 L585.9,1829.6 L590.0,1832.1 L594.0,1834.6 L598.1,1837.0 L602.2,1839.4 L606.2,1841.7 L610.3,1844.0 L614.3,1846.3 L618.4,1848.5 L622.4,1850.7 L626.5,1852.8 L630.5,1855.0 L634.6,1857.1 L638.6,1859.1 L642.7,1861.2 L646.8,1863.2 L650.8,1865.1 L654.9,1867.1 L658.9,1869.0 L663.0,1870.9 L667.0,1872.7 L671.1,1874.6 L675.1,1876.4 L679.2,1878.2 L683.2,1879.9 L687.3,1881.7 L691.3,1883.4 L695.4,1885.1 L699.5,1886.7 L703.5,1888.4 L707.6,1890.0 L711.6,1891.6 L715.7,1893.2 L719.7,1894.8 L723.8,1896.4 L727.8,1897.9 L731.9,1899.5 L735.9,1901.0 L740.0,1902.5 L744.1,1902.3 L748.2,1902.0 L752.2,1901.8 L756.3,1901.5 L760.4,1901.2 L764.5,1901.0 L768.6,1900.7 L772.7,1900.4 L776.8,1900.1 L780.8,1899.7 L784.9,1899.4 L789.0,1899.1 L793.1,1898.7 L797.2,1898.4 L801.2,1898.0 L805.3,1897.6 L809.4,1897.2 L813.5,1896.9 L817.6,1896.4 L821.7,1896.0 L825.8,1895.6 L829.8,1895.2 L833.9,1894.7 L838.0,1894.3 L842.1,1893.8 L846.2,1893.4 L850.2,1892.9 L854.3,1892.4 L858.4,1891.9 L862.5,1891.4 L866.6,1890.9 L870.7,1890.3 L874.8,1889.8 L878.8,1889.2 L882.9,1888.7 L887.0,1888.1 L891.1,1887.6 L895.2,1887.0 L899.2,1886.4 L903.3,1885.8 L907.4,1885.2 L911.5,1884.5 L915.6,1883.9 L919.7,1883.3 L923.8,1882.6 L927.8,1882.0 L931.9,1881.3 L936.0,1880.6 L940.1,1879.9 L944.2,1879.2 L948.2,1878.5 L952.3,1877.8 L956.4,1877.1 L960.5,1876.4 L964.6,1875.6 L968.7,1874.9 L972.8,1874.1 L976.8,1873.4 L980.9,1872.6 L985.0,1871.8 L989.1,1871.0 L993.2,1870.2 L997.2,1869.4 L1001.3,1868.6 L1005.4,1867.7 L1009.5,1866.9 L1013.6,1866.0 L1017.7,1865.2 L1021.8,1864.3 L1025.8,1863.4 L1029.9,1862.5 L1034.0,1861.6 L1038.1,1860.7 L1042.2,1859.8 L1046.2,1858.9 L1050.3,1858.0 L1054.4,1857.0 L1058.5,1856.1 L1062.6,1855.1 L1066.7,1854.2 L1070.8,1853.2 L1074.8,1852.2 L1078.9,1851.2 L1083.0,1850.2 L1087.1,1849.2 L1091.2,1848.2 L1095.2,1847.1 L1099.3,1846.1 L1103.4,1845.1 L1107.5,1844.0 L1107.5,1974.5 L1103.4,1974.1 L1099.3,1973.6 L1095.2,1973.1 L1091.2,1972.7 L1087.1,1972.2 L1083.0,1971.7 L1078.9,1971.2 L1074.8,1970.7 L1070.8,1970.2 L1066.7,1969.6 L1062.6,1969.1 L1058.5,1968.6 L1054.4,1968.0 L1050.3,1967.5 L1046.2,1966.9 L1042.2,1966.3 L1038.1,1965.8 L1034.0,1965.2 L1029.9,1964.6 L1025.8,1964.0 L1021.8,1963.4 L1017.7,1962.8 L1013.6,1962.2 L1009.5,1961.5 L1005.4,1960.9 L1001.3,1960.3 L997.2,1959.6 L993.2,1958.9 L989.1,1958.3 L985.0,1957.6 L980.9,1956.9 L976.8,1956.2 L972.8,1955.5 L968.7,1954.8 L964.6,1954.1 L960.5,1953.4 L956.4,1952.7 L952.3,1951.9 L948.2,1951.2 L944.2,1950.4 L940.1,1949.7 L936.0,1948.9 L931.9,1948.1 L927.8,1947.4 L923.8,1946.6 L919.7,1945.8 L915.6,1945.0 L911.5,1944.1 L907.4,1943.3 L903.3,1942.5 L899.2,1941.7 L895.2,1940.8 L891.1,1940.0 L887.0,1939.1 L882.9,1938.2 L878.8,1937.3 L874.8,1936.4 L870.7,1935.6 L866.6,1934.6 L862.5,1933.7 L858.4,1932.8 L854.3,1931.9 L850.2,1930.9 L846.2,1930.0 L842.1,1929.1 L838.0,1928.1 L833.9,1927.1 L829.8,1926.1 L825.8,1925.2 L821.7,1924.2 L817.6,1923.2 L813.5,1922.1 L809.4,1921.1 L805.3,1920.1 L801.2,1919.1 L797.2,1918.0 L793.1,1917.0 L789.0,1915.9 L784.9,1914.8 L780.8,1913.8 L776.8,1912.7 L772.7,1911.6 L768.6,1910.5 L764.5,1909.4 L760.4,1908.2 L756.3,1907.1 L752.2,1906.0 L748.2,1904.8 L744.1,1903.7 L740.0,1902.5 L735.9,1902.1 L731.9,1901.6 L727.8,1901.2 L723.8,1900.8 L719.7,1900.3 L715.7,1899.9 L711.6,1899.4 L707.6,1899.0 L703.5,1898.5 L699.5,1898.0 L695.4,1897.6 L691.3,1897.1 L687.3,1896.6 L683.2,1896.1 L679.2,1895.7 L675.1,1895.2 L671.1,1894.7 L667.0,1894.2 L663.0,1893.7 L658.9,1893.2 L654.9,1892.7 L650.8,1892.2 L646.8,1891.6 L642.7,1891.1 L638.6,1890.6 L634.6,1890.1 L630.5,1889.5 L626.5,1889.0 L622.4,1888.5 L618.4,1887.9 L614.3,1887.4 L610.3,1886.8 L606.2,1886.3 L602.2,1885.7 L598.1,1885.2 L594.0,1884.6 L590.0,1884.0 L585.9,1883.5 L581.9,1882.9 L577.8,1882.3 L573.8,1881.8 L569.7,1881.2 L565.7,1880.6 L561.6,1880.0 L557.6,1879.4 L553.5,1878.8 L549.5,1878.2 L545.4,1877.7 L541.3,1877.1 L537.3,1876.5 L533.2,1875.8 L529.2,1875.2 L525.1,1874.6 L521.1,1874.0 L517.0,1873.4 L513.0,1872.8 L508.9,1872.2 L504.9,1871.6 L500.8,1870.9 L496.7,1870.3 L492.7,1869.7 L488.6,1869.1 L484.6,1868.4 L480.5,1867.8 L476.5,1867.2 L472.4,1866.5 L468.4,1865.9 L464.3,1865.2 L460.3,1864.6 L456.2,1863.9 L452.2,1863.3 L448.1,1862.7 L444.0,1862.0 L440.0,1861.3 L435.9,1860.7 L431.9,1860.0 L427.8,1859.4 L423.8,1858.7 L419.7,1858.1 L415.7,1857.4 L411.6,1856.7 L407.6,1856.1 L403.5,1855.4 L399.4,1854.8 L395.4,1854.1 L391.3,1853.4 L387.3,1852.7 L383.2,1852.1 L379.2,1851.4 L375.1,1850.7 L371.1,1850.1 L367.0,1849.4 L363.0,1848.7 L358.9,1848.0 L354.9,1847.4 L350.8,1846.7 L346.7,1846.0 L342.7,1845.3 L338.6,1844.6 L334.6,1844.0 L330.5,1843.3 L326.5,1842.6 L322.4,1841.9 L318.4,1841.2 L314.3,1840.6 L310.3,1839.9 L306.2,1839.2 L302.1,1838.5 L298.1,1837.8 L294.0,1837.1 L290.0,1836.5 L285.9,1835.8 L281.9,1835.1 L277.8,1834.4 L273.8,1833.7 L269.7,1833.0 L265.7,1832.3 L261.6,1831.7 L257.6,1831.0 L253.5,1830.3 L249.4,1829.6 L245.4,1828.9 L241.3,1828.2 L237.3,1827.6 L233.2,1826.9 L229.2,1826.2 L225.1,1825.5 L221.1,1824.8 L217.0,1824.2 L213.0,1823.5 L208.9,1822.8 Z" fill="#cccccc"/>
<line x1="172" y1="1902" x2="1153" y2="1902" stroke="#a2a2a2" stroke-width="3.8" stroke-dasharray="3.8 6.7"/>
<path d="M208.9,1644.9 L212.9,1647.6 L217.0,1650.3 L221.0,1653.1 L225.0,1655.9 L229.0,1658.7 L233.1,1661.5 L237.1,1664.4 L241.1,1667.4 L245.2,1670.3 L249.2,1673.3 L253.2,1676.2 L257.3,1679.2 L261.3,1682.2 L265.3,1685.2 L269.3,1688.3 L273.4,1691.3 L277.4,1694.3 L281.4,1697.4 L285.5,1700.4 L289.5,1703.4 L293.5,1706.4 L297.6,1709.4 L301.6,1712.4 L305.6,1715.4 L309.6,1718.3 L313.7,1721.2 L317.7,1724.2 L321.7,1727.1 L325.8,1729.9 L329.8,1732.8 L333.8,1735.6 L337.8,1738.4 L341.9,1741.1 L345.9,1743.9 L349.9,1746.5 L354.0,1749.2 L358.0,1751.8 L362.0,1754.3 L366.1,1756.9 L370.1,1759.3 L374.1,1761.8 L378.1,1764.2 L382.2,1766.5 L386.2,1768.8 L390.2,1771.1 L394.3,1773.4 L398.3,1775.6 L402.3,1777.8 L406.4,1779.9 L410.4,1782.1 L414.4,1784.2 L418.4,1786.2 L422.5,1788.3 L426.5,1790.3 L430.5,1792.3 L434.6,1794.3 L438.6,1796.3 L442.6,1798.2 L446.6,1800.1 L450.7,1802.1 L454.7,1804.0 L458.7,1805.9 L462.8,1807.7 L466.8,1809.6 L470.8,1811.5 L474.9,1813.3 L478.9,1815.2 L482.9,1817.0 L486.9,1818.8 L491.0,1820.7 L495.0,1822.5 L499.0,1824.3 L503.1,1826.0 L507.1,1827.8 L511.1,1829.6 L515.1,1831.3 L519.2,1833.0 L523.2,1834.8 L527.2,1836.5 L531.3,1838.2 L535.3,1839.8 L539.3,1841.5 L543.4,1843.2 L547.4,1844.8 L551.4,1846.4 L555.4,1848.0 L559.5,1849.6 L563.5,1851.2 L567.5,1852.8 L571.6,1854.3 L575.6,1855.9 L579.6,1857.4 L583.7,1858.9 L587.7,1860.4 L591.7,1861.8 L595.7,1863.3 L599.8,1864.7 L603.8,1866.1 L607.8,1867.5 L611.9,1868.9 L615.9,1870.3 L619.9,1871.6 L623.9,1872.9 L628.0,1874.2 L632.0,1875.5 L636.0,1876.7 L640.1,1878.0 L644.1,1879.2 L648.1,1880.4 L652.2,1881.6 L656.2,1882.7 L660.2,1883.9 L664.2,1885.0 L668.3,1886.1 L672.3,1887.1 L676.3,1888.2 L680.4,1889.2 L684.4,1890.2 L688.4,1891.2 L692.5,1892.1 L696.5,1893.1 L700.5,1894.0 L704.5,1894.9 L708.6,1895.7 L712.6,1896.6 L716.6,1897.4 L720.7,1898.2 L724.7,1899.0 L728.7,1899.8 L732.7,1900.5 L736.8,1901.3 L740.8,1902.0 L744.8,1902.7 L748.9,1903.3 L752.9,1904.0 L756.9,1904.6 L761.0,1905.3 L765.0,1905.9 L769.0,1906.5 L773.0,1907.0 L777.1,1907.6 L781.1,1908.1 L785.1,1908.7 L789.2,1909.2 L793.2,1909.7 L797.2,1910.2 L801.3,1910.6 L805.3,1911.1 L809.3,1911.6 L813.3,1912.0 L817.4,1912.4 L821.4,1912.8 L825.4,1913.2 L829.5,1913.6 L833.5,1914.0 L837.5,1914.3 L841.5,1914.7 L845.6,1915.0 L849.6,1915.3 L853.6,1915.7 L857.7,1916.0 L861.7,1916.3 L865.7,1916.6 L869.8,1916.8 L873.8,1917.1 L877.8,1917.4 L881.8,1917.6 L885.9,1917.9 L889.9,1918.1 L893.9,1918.4 L898.0,1918.6 L902.0,1918.8 L906.0,1919.1 L910.0,1919.3 L914.1,1919.5 L918.1,1919.7 L922.1,1919.9 L926.2,1920.1 L930.2,1920.3 L934.2,1920.5 L938.3,1920.6 L942.3,1920.8 L946.3,1921.0 L950.3,1921.2 L954.4,1921.3 L958.4,1921.5 L962.4,1921.7 L966.5,1921.9 L970.5,1922.0 L974.5,1922.2 L978.6,1922.4 L982.6,1922.5 L986.6,1922.7 L990.6,1922.9 L994.7,1923.0 L998.7,1923.2 L1002.7,1923.4 L1006.8,1923.5 L1010.8,1923.7 L1014.8,1923.9 L1018.8,1924.1 L1022.9,1924.3 L1026.9,1924.4 L1030.9,1924.6 L1035.0,1924.8 L1039.0,1925.0 L1043.0,1925.2 L1047.1,1925.4 L1051.1,1925.6 L1055.1,1925.9 L1059.1,1926.1 L1063.2,1926.3 L1067.2,1926.5 L1071.2,1926.8 L1075.3,1927.0 L1079.3,1927.3 L1083.3,1927.6 L1087.4,1927.8 L1091.4,1928.1 L1095.4,1928.4 L1099.4,1928.7 L1103.5,1929.0 L1107.5,1929.3" fill="none" stroke="#111" stroke-width="4.8" stroke-linejoin="round"/>
<line x1="164" y1="1207.5" x2="164" y2="2076" stroke="#1c1c1c" stroke-width="5.5"/>
<line x1="161.25" y1="2073" x2="1153" y2="2073" stroke="#1c1c1c" stroke-width="5.5"/>
<line x1="149" y1="2033.00" x2="164" y2="2033.00" stroke="#333333" stroke-width="5"/>
<text x="137" y="2055.50" text-anchor="end" font-family="'Liberation Sans', Arial, Helvetica, sans-serif" font-size="57" fill="#2b2b2b">0</text>
<line x1="149" y1="1901.80" x2="164" y2="1901.80" stroke="#333333" stroke-width="5"/>
<text x="137" y="1924.30" text-anchor="end" font-family="'Liberation Sans', Arial, Helvetica, sans-serif" font-size="57" fill="#2b2b2b">1</text>
<line x1="149" y1="1770.60" x2="164" y2="1770.60" stroke="#333333" stroke-width="5"/>
<text x="137" y="1793.10" text-anchor="end" font-family="'Liberation Sans', Arial, Helvetica, sans-serif" font-size="57" fill="#2b2b2b">2</text>
<line x1="149" y1="1639.40" x2="164" y2="1639.40" stroke="#333333" stroke-width="5"/>
<text x="137" y="1661.90" text-anchor="end" font-family="'Liberation Sans', Arial, Helvetica, sans-serif" font-size="57" fill="#2b2b2b">3</text>
<line x1="149" y1="1508.20" x2="164" y2="1508.20" stroke="#333333" stroke-width="5"/>
<text x="137" y="1530.70" text-anchor="end" font-family="'Liberation Sans', Arial, Helvetica, sans-serif" font-size="57" fill="#2b2b2b">4</text>
<line x1="149" y1="1377.00" x2="164" y2="1377.00" stroke="#333333" stroke-width="5"/>
<text x="137" y="1399.50" text-anchor="end" font-family="'Liberation Sans', Arial, Helvetica, sans-serif" font-size="57" fill="#2b2b2b">5</text>
<line x1="149" y1="1245.80" x2="164" y2="1245.80" stroke="#333333" stroke-width="5"/>
<text x="137" y="1268.30" text-anchor="end" font-family="'Liberation Sans', Arial, Helvetica, sans-serif" font-size="57" fill="#2b2b2b">6</text>
<line x1="301.50" y1="2073" x2="301.50" y2="2089" stroke="#333333" stroke-width="5"/>
<text x="302.50" y="2140.5" text-anchor="middle" font-family="'Liberation Sans', Arial, Helvetica, sans-serif" font-size="57" fill="#2b2b2b">0.0</text>
<line x1="528.50" y1="2073" x2="528.50" y2="2089" stroke="#333333" stroke-width="5"/>
<text x="529.50" y="2140.5" text-anchor="middle" font-family="'Liberation Sans', Arial, Helvetica, sans-serif" font-size="57" fill="#2b2b2b">0.5</text>
<line x1="755.50" y1="2073" x2="755.50" y2="2089" stroke="#333333" stroke-width="5"/>
<text x="756.50" y="2140.5" text-anchor="middle" font-family="'Liberation Sans', Arial, Helvetica, sans-serif" font-size="57" fill="#2b2b2b">1.0</text>
<line x1="982.50" y1="2073" x2="982.50" y2="2089" stroke="#333333" stroke-width="5"/>
<text x="983.50" y="2140.5" text-anchor="middle" font-family="'Liberation Sans', Arial, Helvetica, sans-serif" font-size="57" fill="#2b2b2b">1.5</text>
<text transform="translate(77.5,1639.5) rotate(-90) scale(1,1.05)" text-anchor="middle" font-family="'Liberation Sans', Arial, Helvetica, sans-serif" font-size="62" fill="#000">Odds Ratio</text>
<text transform="translate(287.41,2226.00)" font-family="'Liberation Sans', Arial, Helvetica, sans-serif" font-size="56" letter-spacing="-0.27" fill="#000">Log10 urinary Sr (10</text>
<text transform="translate(793.01,2197.10) scale(1.0711,1.0255)" font-family="'Liberation Sans', Arial, Helvetica, sans-serif" font-size="38" fill="#000">-2</text>
<text transform="translate(835.99,2226.00)" font-family="'Liberation Sans', Arial, Helvetica, sans-serif" font-size="56" letter-spacing="-0.09" fill="#000">µg/g Cr)</text>
<text transform="translate(599.02,1293.70) scale(1.0519,1.0147)" font-family="'Liberation Serif', 'Times New Roman', Times, serif" font-style="italic" font-size="66" fill="#000">P</text>
<text transform="translate(639.16,1297.70) scale(1.0286,1.0000)" font-family="'Liberation Serif', 'Times New Roman', Times, serif" font-size="47" fill="#000">overall</text>
<text transform="translate(786.74,1294.93) scale(1.2908,0.9636)" font-family="'Liberation Serif', 'Times New Roman', Times, serif" font-size="66" fill="#000">=</text>
<text transform="translate(849.49,1292.78)" font-family="'Liberation Serif', 'Times New Roman', Times, serif" font-size="66" letter-spacing="3.29" fill="#000">0.001</text>
<text transform="translate(599.02,1373.30) scale(1.0519,1.0147)" font-family="'Liberation Serif', 'Times New Roman', Times, serif" font-style="italic" font-size="66" fill="#000">P</text>
<text transform="translate(639.93,1377.30) scale(1.0315,1.0000)" font-family="'Liberation Serif', 'Times New Roman', Times, serif" font-size="47" fill="#000">non-linear</text>
<text transform="translate(852.89,1374.53) scale(1.3363,0.9636)" font-family="'Liberation Serif', 'Times New Roman', Times, serif" font-size="66" fill="#000">=</text>
<text transform="translate(915.79,1372.38)" font-family="'Liberation Serif', 'Times New Roman', Times, serif" font-size="66" letter-spacing="4.29" fill="#000">0.209</text>
<path d="M1434.6,1707.5 L1438.7,1707.6 L1442.8,1707.7 L1446.9,1707.7 L1451.0,1707.8 L1455.1,1707.9 L1459.2,1708.0 L1463.4,1708.2 L1467.5,1708.3 L1471.6,1708.4 L1475.7,1708.5 L1479.8,1708.7 L1483.9,1708.8 L1488.0,1709.0 L1492.1,1709.1 L1496.2,1709.3 L1500.3,1709.4 L1504.4,1709.6 L1508.5,1709.8 L1512.6,1709.9 L1516.7,1710.1 L1520.9,1710.3 L1525.0,1710.5 L1529.1,1710.7 L1533.2,1710.9 L1537.3,1711.1 L1541.4,1711.3 L1545.5,1711.5 L1549.6,1711.7 L1553.7,1711.9 L1557.8,1712.1 L1561.9,1712.3 L1566.0,1712.5 L1570.1,1712.7 L1574.2,1712.9 L1578.4,1713.1 L1582.5,1713.3 L1586.6,1713.6 L1590.7,1713.8 L1594.8,1714.0 L1598.9,1714.2 L1603.0,1714.4 L1607.1,1714.6 L1611.2,1714.8 L1615.3,1715.1 L1619.4,1715.3 L1623.5,1715.5 L1627.6,1715.7 L1631.7,1715.9 L1635.9,1716.1 L1640.0,1716.3 L1644.1,1716.5 L1648.2,1716.7 L1652.3,1716.9 L1656.4,1717.1 L1660.5,1717.3 L1664.6,1717.5 L1668.7,1717.7 L1672.8,1717.9 L1676.9,1718.0 L1681.0,1718.2 L1685.1,1718.4 L1689.2,1718.6 L1693.4,1718.7 L1697.5,1718.9 L1701.6,1719.0 L1705.7,1719.2 L1709.8,1719.3 L1713.9,1719.5 L1718.0,1719.6 L1722.0,1717.6 L1726.1,1715.6 L1730.1,1713.6 L1734.2,1711.6 L1738.2,1709.6 L1742.2,1707.6 L1746.3,1705.7 L1750.3,1703.7 L1754.3,1701.7 L1758.4,1699.7 L1762.4,1697.7 L1766.5,1695.7 L1770.5,1693.7 L1774.5,1691.8 L1778.6,1689.8 L1782.6,1687.8 L1786.6,1685.8 L1790.7,1683.8 L1794.7,1681.8 L1798.8,1679.8 L1802.8,1677.7 L1806.8,1675.7 L1810.9,1673.7 L1814.9,1671.7 L1819.0,1669.6 L1823.0,1667.6 L1827.0,1665.6 L1831.1,1663.5 L1835.1,1661.4 L1839.1,1659.4 L1843.2,1657.3 L1847.2,1655.2 L1851.3,1653.1 L1855.3,1651.0 L1859.3,1648.9 L1863.4,1646.7 L1867.4,1644.6 L1871.4,1642.4 L1875.5,1640.3 L1879.5,1638.1 L1883.6,1635.9 L1887.6,1633.7 L1891.6,1631.5 L1895.7,1629.2 L1899.7,1627.0 L1903.7,1624.7 L1907.8,1622.5 L1911.8,1620.2 L1915.9,1617.9 L1919.9,1615.5 L1923.9,1613.2 L1928.0,1610.8 L1932.0,1608.5 L1936.1,1606.1 L1940.1,1603.7 L1944.1,1601.2 L1948.2,1598.8 L1952.2,1596.3 L1956.2,1593.8 L1960.3,1591.3 L1964.3,1588.8 L1968.4,1586.2 L1972.4,1583.7 L1976.4,1581.1 L1980.5,1578.4 L1984.5,1575.8 L1988.5,1573.1 L1992.6,1570.5 L1996.6,1567.7 L2000.7,1565.0 L2004.7,1562.3 L2008.7,1559.5 L2012.8,1556.7 L2016.8,1553.9 L2020.9,1551.0 L2024.9,1548.2 L2028.9,1545.3 L2033.0,1542.4 L2037.0,1539.4 L2041.0,1536.5 L2045.1,1533.5 L2049.1,1530.5 L2053.2,1527.5 L2057.2,1524.4 L2061.2,1521.4 L2065.3,1518.3 L2069.3,1515.2 L2073.3,1512.0 L2077.4,1508.9 L2081.4,1505.7 L2085.5,1502.5 L2089.5,1499.3 L2093.5,1496.0 L2097.6,1492.8 L2101.6,1489.5 L2105.7,1486.2 L2109.7,1482.8 L2113.7,1479.5 L2117.8,1476.1 L2121.8,1472.7 L2125.8,1469.3 L2129.9,1465.9 L2133.9,1462.4 L2138.0,1458.9 L2142.0,1455.4 L2146.0,1451.9 L2150.1,1448.4 L2154.1,1444.8 L2158.1,1441.2 L2162.2,1437.6 L2166.2,1434.0 L2170.3,1430.4 L2174.3,1426.7 L2178.3,1423.0 L2182.4,1419.3 L2186.4,1415.6 L2190.4,1411.8 L2194.5,1408.0 L2198.5,1404.2 L2202.6,1400.4 L2206.6,1396.6 L2210.6,1392.7 L2214.7,1388.8 L2218.7,1384.9 L2222.8,1381.0 L2226.8,1377.1 L2230.8,1373.1 L2234.9,1369.2 L2238.9,1365.2 L2242.9,1361.1 L2247.0,1357.1 L2251.0,1353.0 L2255.1,1348.9 L2259.1,1344.8 L2263.1,1340.7 L2267.2,1336.6 L2271.2,1332.4 L2275.2,1328.2 L2279.3,1324.0 L2283.3,1319.8 L2287.4,1315.6 L2291.4,1311.3 L2291.4,1831.2 L2287.4,1830.6 L2283.3,1829.9 L2279.3,1829.2 L2275.2,1828.5 L2271.2,1827.8 L2267.2,1827.0 L2263.1,1826.3 L2259.1,1825.5 L2255.1,1824.7 L2251.0,1824.0 L2247.0,1823.2 L2242.9,1822.3 L2238.9,1821.5 L2234.9,1820.7 L2230.8,1819.8 L2226.8,1818.9 L2222.8,1818.0 L2218.7,1817.2 L2214.7,1816.3 L2210.6,1815.3 L2206.6,1814.4 L2202.6,1813.5 L2198.5,1812.5 L2194.5,1811.6 L2190.4,1810.6 L2186.4,1809.6 L2182.4,1808.6 L2178.3,1807.7 L2174.3,1806.7 L2170.3,1805.7 L2166.2,1804.6 L2162.2,1803.6 L2158.1,1802.6 L2154.1,1801.6 L2150.1,1800.5 L2146.0,1799.5 L2142.0,1798.4 L2138.0,1797.4 L2133.9,1796.3 L2129.9,1795.2 L2125.8,1794.2 L2121.8,1793.1 L2117.8,1792.0 L2113.7,1790.9 L2109.7,1789.8 L2105.7,1788.7 L2101.6,1787.6 L2097.6,1786.6 L2093.5,1785.5 L2089.5,1784.4 L2085.5,1783.3 L2081.4,1782.2 L2077.4,1781.1 L2073.3,1780.0 L2069.3,1778.9 L2065.3,1777.8 L2061.2,1776.7 L2057.2,1775.6 L2053.2,1774.5 L2049.1,1773.4 L2045.1,1772.3 L2041.0,1771.2 L2037.0,1770.1 L2033.0,1769.0 L2028.9,1768.0 L2024.9,1766.9 L2020.9,1765.8 L2016.8,1764.7 L2012.8,1763.7 L2008.7,1762.6 L2004.7,1761.6 L2000.7,1760.5 L1996.6,1759.5 L1992.6,1758.4 L1988.5,1757.4 L1984.5,1756.4 L1980.5,1755.4 L1976.4,1754.4 L1972.4,1753.4 L1968.4,1752.4 L1964.3,1751.4 L1960.3,1750.4 L1956.2,1749.4 L1952.2,1748.5 L1948.2,1747.5 L1944.1,1746.6 L1940.1,1745.7 L1936.1,1744.7 L1932.0,1743.8 L1928.0,1742.9 L1923.9,1742.1 L1919.9,1741.2 L1915.9,1740.3 L1911.8,1739.5 L1907.8,1738.6 L1903.7,1737.8 L1899.7,1737.0 L1895.7,1736.2 L1891.6,1735.4 L1887.6,1734.7 L1883.6,1733.9 L1879.5,1733.2 L1875.5,1732.5 L1871.4,1731.8 L1867.4,1731.1 L1863.4,1730.4 L1859.3,1729.7 L1855.3,1729.1 L1851.3,1728.5 L1847.2,1727.9 L1843.2,1727.3 L1839.1,1726.7 L1835.1,1726.2 L1831.1,1725.6 L1827.0,1725.1 L1823.0,1724.6 L1819.0,1724.1 L1814.9,1723.7 L1810.9,1723.3 L1806.8,1722.8 L1802.8,1722.4 L1798.8,1722.1 L1794.7,1721.7 L1790.7,1721.4 L1786.6,1721.1 L1782.6,1720.8 L1778.6,1720.5 L1774.5,1720.3 L1770.5,1720.1 L1766.5,1719.9 L1762.4,1719.7 L1758.4,1719.6 L1754.3,1719.5 L1750.3,1719.4 L1746.3,1719.3 L1742.2,1719.3 L1738.2,1719.3 L1734.2,1719.3 L1730.1,1719.3 L1726.1,1719.4 L1722.0,1719.5 L1718.0,1719.6 L1713.9,1724.3 L1709.8,1729.0 L1705.7,1733.6 L1701.6,1738.1 L1697.5,1742.5 L1693.4,1746.9 L1689.2,1751.2 L1685.1,1755.4 L1681.0,1759.5 L1676.9,1763.6 L1672.8,1767.6 L1668.7,1771.5 L1664.6,1775.4 L1660.5,1779.2 L1656.4,1783.0 L1652.3,1786.6 L1648.2,1790.2 L1644.1,1793.8 L1640.0,1797.3 L1635.9,1800.7 L1631.7,1804.1 L1627.6,1807.4 L1623.5,1810.7 L1619.4,1813.9 L1615.3,1817.1 L1611.2,1820.2 L1607.1,1823.3 L1603.0,1826.3 L1598.9,1829.2 L1594.8,1832.2 L1590.7,1835.0 L1586.6,1837.9 L1582.5,1840.7 L1578.4,1843.4 L1574.2,1846.1 L1570.1,1848.8 L1566.0,1851.4 L1561.9,1854.0 L1557.8,1856.6 L1553.7,1859.1 L1549.6,1861.6 L1545.5,1864.1 L1541.4,1866.5 L1537.3,1868.9 L1533.2,1871.3 L1529.1,1873.6 L1525.0,1875.9 L1520.9,1878.2 L1516.7,1880.5 L1512.6,1882.8 L1508.5,1885.0 L1504.4,1887.2 L1500.3,1889.4 L1496.2,1891.6 L1492.1,1893.7 L1488.0,1895.9 L1483.9,1898.0 L1479.8,1900.1 L1475.7,1902.2 L1471.6,1904.3 L1467.5,1906.4 L1463.4,1908.5 L1459.2,1910.6 L1455.1,1912.6 L1451.0,1914.7 L1446.9,1916.7 L1442.8,1918.8 L1438.7,1920.9 L1434.6,1922.9 Z" fill="#cccccc"/>
<line x1="1399.5" y1="1719" x2="2335" y2="1719" stroke="#a2a2a2" stroke-width="3.8" stroke-dasharray="3.8 6.7"/>
<path d="M1434.6,1844.6 L1438.6,1843.2 L1442.6,1841.7 L1446.7,1840.3 L1450.7,1838.8 L1454.7,1837.4 L1458.7,1835.9 L1462.8,1834.4 L1466.8,1832.9 L1470.8,1831.4 L1474.8,1829.8 L1478.8,1828.3 L1482.9,1826.7 L1486.9,1825.2 L1490.9,1823.6 L1494.9,1822.0 L1499.0,1820.4 L1503.0,1818.8 L1507.0,1817.1 L1511.0,1815.4 L1515.1,1813.8 L1519.1,1812.1 L1523.1,1810.4 L1527.1,1808.7 L1531.1,1806.9 L1535.2,1805.2 L1539.2,1803.4 L1543.2,1801.6 L1547.2,1799.8 L1551.3,1798.0 L1555.3,1796.2 L1559.3,1794.3 L1563.3,1792.4 L1567.3,1790.6 L1571.4,1788.7 L1575.4,1786.7 L1579.4,1784.8 L1583.4,1782.8 L1587.5,1780.9 L1591.5,1778.9 L1595.5,1776.9 L1599.5,1774.9 L1603.5,1772.9 L1607.6,1770.9 L1611.6,1768.9 L1615.6,1766.9 L1619.6,1764.9 L1623.7,1762.9 L1627.7,1760.9 L1631.7,1758.9 L1635.7,1756.9 L1639.7,1755.0 L1643.8,1753.0 L1647.8,1751.1 L1651.8,1749.1 L1655.8,1747.2 L1659.9,1745.3 L1663.9,1743.4 L1667.9,1741.6 L1671.9,1739.8 L1676.0,1738.0 L1680.0,1736.2 L1684.0,1734.4 L1688.0,1732.7 L1692.0,1731.0 L1696.1,1729.4 L1700.1,1727.7 L1704.1,1726.2 L1708.1,1724.6 L1712.2,1723.1 L1716.2,1721.6 L1720.2,1720.2 L1724.2,1718.8 L1728.2,1717.4 L1732.3,1716.1 L1736.3,1714.8 L1740.3,1713.5 L1744.3,1712.3 L1748.4,1711.1 L1752.4,1710.0 L1756.4,1708.9 L1760.4,1707.8 L1764.4,1706.8 L1768.5,1705.7 L1772.5,1704.8 L1776.5,1703.8 L1780.5,1703.0 L1784.6,1702.1 L1788.6,1701.3 L1792.6,1700.5 L1796.6,1699.7 L1800.7,1699.0 L1804.7,1698.3 L1808.7,1697.6 L1812.7,1696.9 L1816.7,1696.3 L1820.8,1695.7 L1824.8,1695.0 L1828.8,1694.4 L1832.8,1693.8 L1836.9,1693.3 L1840.9,1692.7 L1844.9,1692.1 L1848.9,1691.6 L1852.9,1691.0 L1857.0,1690.5 L1861.0,1690.0 L1865.0,1689.4 L1869.0,1688.9 L1873.1,1688.4 L1877.1,1687.9 L1881.1,1687.5 L1885.1,1687.0 L1889.1,1686.5 L1893.2,1686.0 L1897.2,1685.6 L1901.2,1685.1 L1905.2,1684.7 L1909.3,1684.3 L1913.3,1683.8 L1917.3,1683.4 L1921.3,1683.0 L1925.3,1682.6 L1929.4,1682.2 L1933.4,1681.8 L1937.4,1681.4 L1941.4,1681.0 L1945.5,1680.7 L1949.5,1680.3 L1953.5,1679.9 L1957.5,1679.6 L1961.6,1679.2 L1965.6,1678.8 L1969.6,1678.5 L1973.6,1678.2 L1977.6,1677.8 L1981.7,1677.5 L1985.7,1677.2 L1989.7,1676.8 L1993.7,1676.5 L1997.8,1676.2 L2001.8,1675.9 L2005.8,1675.6 L2009.8,1675.3 L2013.8,1674.9 L2017.9,1674.6 L2021.9,1674.3 L2025.9,1674.1 L2029.9,1673.8 L2034.0,1673.5 L2038.0,1673.2 L2042.0,1672.9 L2046.0,1672.6 L2050.0,1672.3 L2054.1,1672.0 L2058.1,1671.8 L2062.1,1671.5 L2066.1,1671.2 L2070.2,1670.9 L2074.2,1670.6 L2078.2,1670.4 L2082.2,1670.1 L2086.3,1669.8 L2090.3,1669.5 L2094.3,1669.3 L2098.3,1669.0 L2102.3,1668.7 L2106.4,1668.4 L2110.4,1668.2 L2114.4,1667.9 L2118.4,1667.6 L2122.5,1667.3 L2126.5,1667.0 L2130.5,1666.8 L2134.5,1666.5 L2138.5,1666.2 L2142.6,1665.9 L2146.6,1665.6 L2150.6,1665.3 L2154.6,1665.0 L2158.7,1664.7 L2162.7,1664.4 L2166.7,1664.1 L2170.7,1663.8 L2174.7,1663.5 L2178.8,1663.2 L2182.8,1662.9 L2186.8,1662.6 L2190.8,1662.3 L2194.9,1661.9 L2198.9,1661.6 L2202.9,1661.3 L2206.9,1660.9 L2210.9,1660.6 L2215.0,1660.3 L2219.0,1659.9 L2223.0,1659.6 L2227.0,1659.2 L2231.1,1658.8 L2235.1,1658.5 L2239.1,1658.1 L2243.1,1657.7 L2247.2,1657.3 L2251.2,1656.9 L2255.2,1656.5 L2259.2,1656.1 L2263.2,1655.7 L2267.3,1655.3 L2271.3,1654.9 L2275.3,1654.5 L2279.3,1654.0 L2283.4,1653.6 L2287.4,1653.1 L2291.4,1652.7" fill="none" stroke="#111" stroke-width="4.8" stroke-linejoin="round"/>
<line x1="1391.5" y1="1207.5" x2="1391.5" y2="2076" stroke="#1c1c1c" stroke-width="5.5"/>
<line x1="1388.75" y1="2073" x2="2335" y2="2073" stroke="#1c1c1c" stroke-width="5.5"/>
<line x1="1376.5" y1="2033.75" x2="1391.5" y2="2033.75" stroke="#333333" stroke-width="5"/>
<text x="1364.5" y="2056.25" text-anchor="end" font-family="'Liberation Sans', Arial, Helvetica, sans-serif" font-size="57" fill="#2b2b2b">0.0</text>
<line x1="1376.5" y1="1876.25" x2="1391.5" y2="1876.25" stroke="#333333" stroke-width="5"/>
<text x="1364.5" y="1898.75" text-anchor="end" font-family="'Liberation Sans', Arial, Helvetica, sans-serif" font-size="57" fill="#2b2b2b">0.5</text>
<line x1="1376.5" y1="1718.75" x2="1391.5" y2="1718.75" stroke="#333333" stroke-width="5"/>
<text x="1364.5" y="1741.25" text-anchor="end" font-family="'Liberation Sans', Arial, Helvetica, sans-serif" font-size="57" fill="#2b2b2b">1.0</text>
<line x1="1376.5" y1="1561.25" x2="1391.5" y2="1561.25" stroke="#333333" stroke-width="5"/>
<text x="1364.5" y="1583.75" text-anchor="end" font-family="'Liberation Sans', Arial, Helvetica, sans-serif" font-size="57" fill="#2b2b2b">1.5</text>
<line x1="1376.5" y1="1403.75" x2="1391.5" y2="1403.75" stroke="#333333" stroke-width="5"/>
<text x="1364.5" y="1426.25" text-anchor="end" font-family="'Liberation Sans', Arial, Helvetica, sans-serif" font-size="57" fill="#2b2b2b">2.0</text>
<line x1="1376.5" y1="1246.25" x2="1391.5" y2="1246.25" stroke="#333333" stroke-width="5"/>
<text x="1364.5" y="1268.75" text-anchor="end" font-family="'Liberation Sans', Arial, Helvetica, sans-serif" font-size="57" fill="#2b2b2b">2.5</text>
<line x1="1465.00" y1="2073" x2="1465.00" y2="2089" stroke="#333333" stroke-width="5"/>
<text x="1466.00" y="2140.5" text-anchor="middle" font-family="'Liberation Sans', Arial, Helvetica, sans-serif" font-size="57" fill="#2b2b2b">0.0</text>
<line x1="1650.50" y1="2073" x2="1650.50" y2="2089" stroke="#333333" stroke-width="5"/>
<text x="1651.50" y="2140.5" text-anchor="middle" font-family="'Liberation Sans', Arial, Helvetica, sans-serif" font-size="57" fill="#2b2b2b">0.5</text>
<line x1="1836.00" y1="2073" x2="1836.00" y2="2089" stroke="#333333" stroke-width="5"/>
<text x="1837.00" y="2140.5" text-anchor="middle" font-family="'Liberation Sans', Arial, Helvetica, sans-serif" font-size="57" fill="#2b2b2b">1.0</text>
<line x1="2021.50" y1="2073" x2="2021.50" y2="2089" stroke="#333333" stroke-width="5"/>
<text x="2022.50" y="2140.5" text-anchor="middle" font-family="'Liberation Sans', Arial, Helvetica, sans-serif" font-size="57" fill="#2b2b2b">1.5</text>
<line x1="2207.00" y1="2073" x2="2207.00" y2="2089" stroke="#333333" stroke-width="5"/>
<text x="2208.00" y="2140.5" text-anchor="middle" font-family="'Liberation Sans', Arial, Helvetica, sans-serif" font-size="57" fill="#2b2b2b">2.0</text>
<text transform="translate(1260.5,1639.5) rotate(-90) scale(1,1.05)" text-anchor="middle" font-family="'Liberation Sans', Arial, Helvetica, sans-serif" font-size="62" fill="#000">Odds Ratio</text>
<text transform="translate(1499.51,2225.30)" font-family="'Liberation Sans', Arial, Helvetica, sans-serif" font-size="56" letter-spacing="-0.29" fill="#000">Log10 urinary U (10</text>
<text transform="translate(1989.41,2197.10) scale(1.0711,1.0255)" font-family="'Liberation Sans', Arial, Helvetica, sans-serif" font-size="38" fill="#000">-2</text>
<text transform="translate(2032.39,2225.30)" font-family="'Liberation Sans', Arial, Helvetica, sans-serif" font-size="56" letter-spacing="-0.09" fill="#000">µg/g Cr)</text>
<text transform="translate(1461.63,1293.70) scale(1.0877,1.0356)" font-family="'Liberation Serif', 'Times New Roman', Times, serif" font-style="italic" font-size="66" fill="#000">P</text>
<text transform="translate(1501.85,1298.30) scale(1.0380,1.0000)" font-family="'Liberation Serif', 'Times New Roman', Times, serif" font-size="47" fill="#000">overall</text>
<text transform="translate(1649.19,1294.93) scale(1.3363,0.9636)" font-family="'Liberation Serif', 'Times New Roman', Times, serif" font-size="66" fill="#000">=</text>
<text transform="translate(1712.09,1292.78)" font-family="'Liberation Serif', 'Times New Roman', Times, serif" font-size="66" letter-spacing="3.76" fill="#000">0.087</text>
<text transform="translate(1461.63,1373.30) scale(1.0877,1.0310)" font-family="'Liberation Serif', 'Times New Roman', Times, serif" font-style="italic" font-size="66" fill="#000">P</text>
<text transform="translate(1502.63,1377.30) scale(1.0383,1.0000)" font-family="'Liberation Serif', 'Times New Roman', Times, serif" font-size="47" fill="#000">non-linear</text>
<text transform="translate(1715.49,1374.53) scale(1.3363,0.9636)" font-family="'Liberation Serif', 'Times New Roman', Times, serif" font-size="66" fill="#000">=</text>
<text transform="translate(1778.39,1372.38)" font-family="'Liberation Serif', 'Times New Roman', Times, serif" font-size="66" letter-spacing="4.31" fill="#000">0.279</text>
</svg>
</body></html>
